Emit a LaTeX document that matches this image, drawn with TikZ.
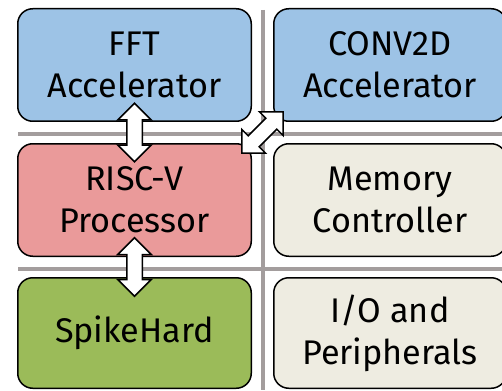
\documentclass[tikz,border=0pt]{standalone}
\usepackage{fontspec}
\setmainfont{Fira Sans}
\usetikzlibrary{calc}

\definecolor{accblue}{HTML}{9DC3E6}
\definecolor{cpupink}{HTML}{EA9A9A}
\definecolor{snngreen}{HTML}{9BBB59}
\definecolor{periphbeige}{HTML}{EEECE1}
\definecolor{gridgrey}{HTML}{A39D9D}

\begin{document}
\begin{tikzpicture}[x=1pt,y=-1pt,
  block/.style={draw=black, line width=1.5pt, rounded corners=15pt,
    align=center, inner sep=0pt,
    font=\fontsize{34.2}{42}\selectfont},
  gridline/.style={draw=gridgrey, line width=3.5pt},
  % two-headed block arrow, centred on the origin, lying along x
  buslink/.pic={
    \draw[draw=black, fill=white, line width=1.5pt, line join=miter]
      (-29.25,0) -- (-12.5,-16.75) -- (-12.5,-7.75) -- (12.5,-7.75)
      -- (12.5,-16.75) -- (29.25,0) -- (12.5,16.75) -- (12.5,7.75)
      -- (-12.5,7.75) -- (-12.5,16.75) -- cycle;
  }]

  \useasboundingbox (0,0) rectangle (502,390);
  \clip (0,0) rectangle (502,390);

  % bus grid behind the blocks
  \draw[gridline] (18,134) -- (502,134);
  \draw[gridline] (18,269) -- (502,269);
  \draw[gridline] (263,10) -- (263,390);

  % SoC blocks
  \node[block, fill=accblue, minimum width=233.5pt, minimum height=112.5pt]
    (fft) at (134.5,65) {FFT\\Accelerator};
  \node[block, fill=accblue, minimum width=232.5pt, minimum height=112.5pt]
    (conv) at (390,65) {CONV2D\\Accelerator};
  \node[block, fill=cpupink, minimum width=233.5pt, minimum height=112.5pt]
    (risc) at (134.5,200) {RISC-V\\Processor};
  \node[block, fill=periphbeige, minimum width=232.5pt, minimum height=112.5pt]
    (mem) at (390,200) {Memory\\Controller};
  \node[block, fill=snngreen, minimum width=233.5pt, minimum height=110.5pt]
    (spike) at (134.5,333) {SpikeHard};
  \node[block, fill=periphbeige, minimum width=232.5pt, minimum height=110.5pt]
    (io) at (390,333) {I/O and\\Peripherals};

  % interconnect arrows between the blocks
  \pic[rotate=90] at ($(fft.south)!0.5!(risc.north)$) {buslink};
  \pic[rotate=90] at ($(risc.south)!0.5!(spike.north)$) {buslink};
  \pic[rotate=45] at ($(risc.north east)!0.5!(conv.south west)$) {buslink};
\end{tikzpicture}
\end{document}
